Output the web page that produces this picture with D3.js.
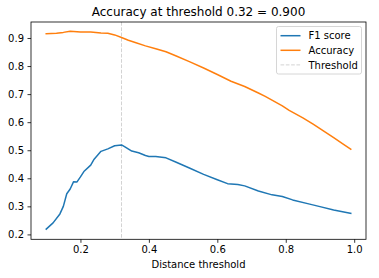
<!DOCTYPE html>
<html>
<head>
<meta charset="utf-8">
<script src="https://cdn.jsdelivr.net/npm/d3@7"></script>
<style>
  html, body { margin: 0; padding: 0; background: #fff; }
  svg { display: block; font-family: "DejaVu Sans", sans-serif; }
</style>
</head>
<body>
<svg id="chart" width="379" height="278"></svg>
<script>
// ---- data ----
const f1X = [0.10,0.12,0.14,0.15,0.16,0.17,0.18,0.19,0.20,0.21,0.23,0.24,0.26,0.28,0.30,0.32,0.33,0.35,0.37,0.39,0.40,0.42,0.45,0.48,0.52,0.56,0.60,0.63,0.66,0.68,0.72,0.76,0.79,0.82,0.87,0.90,0.94,0.99];
const f1Y = [0.219,0.241,0.273,0.300,0.345,0.362,0.388,0.387,0.405,0.424,0.447,0.468,0.496,0.505,0.516,0.519,0.512,0.497,0.491,0.481,0.478,0.478,0.473,0.457,0.436,0.414,0.395,0.381,0.378,0.373,0.355,0.341,0.335,0.323,0.308,0.299,0.287,0.275];
const accX = [0.10,0.13,0.15,0.17,0.20,0.23,0.26,0.28,0.30,0.32,0.34,0.36,0.39,0.42,0.45,0.48,0.52,0.56,0.60,0.64,0.68,0.72,0.74,0.79,0.81,0.85,0.88,0.91,0.94,0.97,0.99];
const accY = [0.915,0.917,0.920,0.924,0.921,0.921,0.918,0.917,0.911,0.902,0.892,0.884,0.872,0.862,0.851,0.836,0.815,0.793,0.770,0.746,0.727,0.704,0.692,0.658,0.642,0.615,0.593,0.569,0.545,0.520,0.504];
const threshold = 0.32;
const xTicks = [0.2,0.4,0.6,0.8,1.0];
const yTicks = [0.2,0.3,0.4,0.5,0.6,0.7,0.8,0.9];
const seriesNames = ["F1 score","Accuracy","Threshold"];
const titleText = "Accuracy at threshold 0.32 = 0.900";
const xLabel = "Distance threshold";

// ---- layout ----
const L = 31, R = 366, T = 22, B = 239.3;
const svg = d3.select("#chart");
svg.append("rect").attr("width",379).attr("height",278).attr("fill","#fff");

const allX = f1X.concat(accX), allY = f1Y.concat(accY);
const xmin = d3.min(allX), xmax = d3.max(allX);
const xm = (xmax - xmin) * 0.05;
const x = d3.scaleLinear().domain([xmin - xm, xmax + xm]).range([L, R]);
const y = d3.scaleLinear().domain([0.1826, 0.957]).range([B, T]);

// threshold line
svg.append("line")
  .attr("x1", x(threshold)).attr("x2", x(threshold))
  .attr("y1", T).attr("y2", B)
  .attr("stroke", "#d3d3d3").attr("stroke-width", 1)
  .attr("stroke-dasharray", "3.7,1.6");

const line = d3.line().x(d => x(d[0])).y(d => y(d[1]));
svg.append("path").datum(f1X.map((v,i)=>[v,f1Y[i]]))
  .attr("d", line).attr("fill","none").attr("stroke","#1f77b4")
  .attr("stroke-width",1.5).attr("stroke-linejoin","round").attr("stroke-linecap","square");
svg.append("path").datum(accX.map((v,i)=>[v,accY[i]]))
  .attr("d", line).attr("fill","none").attr("stroke","#ff7f0e")
  .attr("stroke-width",1.5).attr("stroke-linejoin","round").attr("stroke-linecap","square");

// axes
const xAxis = d3.axisBottom(x).tickValues(xTicks).tickFormat(d3.format(".1f")).tickSizeOuter(0).tickSize(3.5).tickPadding(3.5);
const yAxis = d3.axisLeft(y).tickValues(yTicks).tickFormat(d3.format(".1f")).tickSizeOuter(0).tickSize(3.5).tickPadding(3.5);
const gx = svg.append("g").attr("transform",`translate(0,${B})`).call(xAxis);
const gy = svg.append("g").attr("transform",`translate(${L},0)`).call(yAxis);
[gx, gy].forEach(g => {
  g.select(".domain").remove();
  g.selectAll(".tick line").attr("stroke","#000").attr("stroke-width",0.8);
  g.selectAll(".tick text").attr("fill","#000").style("font-size","10px").style("font-family","DejaVu Sans");
});

// frame
svg.append("rect").attr("x",L).attr("y",T).attr("width",R-L).attr("height",B-T)
  .attr("fill","none").attr("stroke","#000").attr("stroke-width",0.8);

// title & label
svg.append("text").attr("x",(L+R)/2).attr("y",16).attr("text-anchor","middle")
  .style("font-size","12px").attr("fill","#000").text(titleText);
svg.append("text").attr("x",(L+R)/2).attr("y",268.3).attr("text-anchor","middle")
  .style("font-size","10px").attr("fill","#000").text(xLabel);

// legend
const lg = svg.append("g");
lg.append("rect").attr("x",276.5).attr("y",26.5).attr("width",85).attr("height",47.5)
  .attr("rx",2).attr("fill","#fff").attr("fill-opacity",0.8)
  .attr("stroke","#cccccc").attr("stroke-width",0.8);
const legColors = ["#1f77b4","#ff7f0e","#d3d3d3"];
seriesNames.forEach((n,i) => {
  const yy = 35.7 + i*14.6;
  lg.append("line").attr("x1",280.5).attr("x2",300.5).attr("y1",yy).attr("y2",yy)
    .attr("stroke",legColors[i]).attr("stroke-width", i===2 ? 1 : 1.5)
    .attr("stroke-dasharray", i===2 ? "3.7,1.6" : null);
  lg.append("text").attr("x",308.5).attr("y",yy+3.6).style("font-size","10px")
    .attr("fill","#000").text(n);
});
</script>
</body>
</html>
